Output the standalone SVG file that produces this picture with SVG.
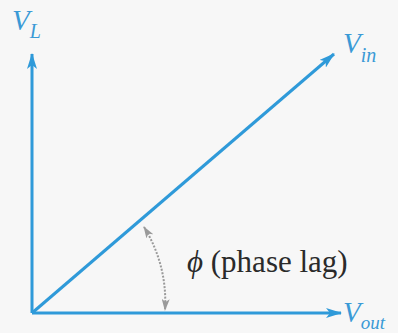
<svg xmlns="http://www.w3.org/2000/svg" width="398" height="333" viewBox="0 0 398 333">
<style>
.ax{stroke:#2f9ad9;stroke-width:3;fill:none}
.lbl{font-family:'Liberation Serif','DejaVu Serif','Times New Roman',serif;font-style:italic;fill:#3a9ad6}
.txt{font-family:'Liberation Serif','DejaVu Serif','Times New Roman',serif;fill:#2a2a2a}
.arc{stroke:#9a9a9a;stroke-width:2;fill:none;stroke-dasharray:2 1.5}
</style>
<defs>
<marker id="ah" viewBox="0 0 16 10" refX="15" refY="5" markerWidth="16" markerHeight="10" markerUnits="userSpaceOnUse" orient="auto">
<path d="M0,0 L16,5 L0,10 L4,5 Z" fill="#2f9ad9"/>
</marker>
<marker id="gh" viewBox="0 0 12 8" refX="11" refY="4" markerWidth="12" markerHeight="8" markerUnits="userSpaceOnUse" orient="auto-start-reverse">
<path d="M0,0 L12,4 L0,8 L3,4 Z" fill="#9a9a9a"/>
</marker>
</defs>
<rect width="398" height="333" fill="#f7f7f7"/>
<g id="connectors">
<line class="ax" x1="32" y1="313" x2="32" y2="54" marker-end="url(#ah)"/>
<line class="ax" x1="32" y1="313" x2="341" y2="313" marker-end="url(#ah)"/>
<line class="ax" x1="32" y1="313" x2="334" y2="54" marker-end="url(#ah)"/>
<path class="arc" d="M144,227 A140,140 0 0 1 165,310" marker-start="url(#gh)" marker-end="url(#gh)"/>
</g>
<g id="VL"><text class="lbl" x="12" y="30" font-size="29">V<tspan font-size="20" dy="8">L</tspan></text></g>
<g id="Vin"><text class="lbl" x="343" y="53" font-size="29">V<tspan font-size="20" dy="9">in</tspan></text></g>
<g id="Vout"><text class="lbl" x="343" y="322" font-size="29">V<tspan font-size="19" dy="7">out</tspan></text></g>
<g id="phi"><text class="txt" x="187" y="272" font-size="31"><tspan font-style="italic">ϕ</tspan> (phase lag)</text></g>
</svg>
